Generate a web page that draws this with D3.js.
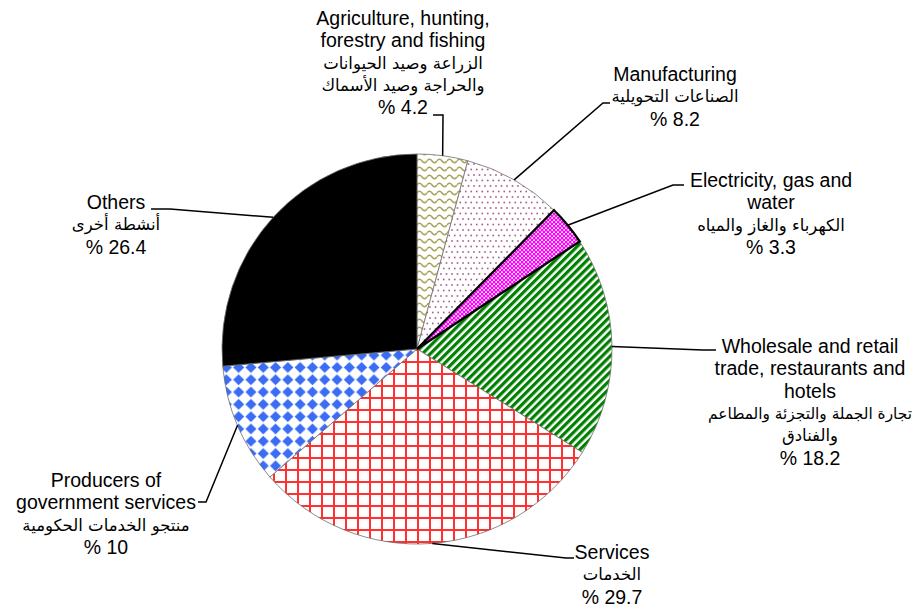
<!DOCTYPE html>
<html>
<head>
<meta charset="utf-8">
<script src="https://cdn.jsdelivr.net/npm/d3@7"></script>
<style>
    body { margin: 0; background: #fff; }
    .en { font-family: "Liberation Sans", Arial, sans-serif; font-size: 19.5px; fill: #000; }
    .ar { font-family: "DejaVu Sans", sans-serif; font-size: 16.5px; fill: #000; }
    .leader { fill: none; stroke: #000; stroke-width: 1.5; }
</style>
</head>
<body>
<div id="chart"></div>
<script>
// Chart data: sectors (clockwise from 12 o'clock), their labels and shares in %.
const sectors = ["agriculture", "manufacturing", "electricity", "wholesale", "services", "government", "others"];
const englishLines = [
    ["Agriculture, hunting,", "forestry and fishing"],
    ["Manufacturing"],
    ["Electricity, gas and", "water"],
    ["Wholesale and retail", "trade, restaurants and", "hotels"],
    ["Services"],
    ["Producers of", "government services"],
    ["Others"]
];
const arabicLines = [
    ["الزراعة وصيد الحيوانات", "والحراجة وصيد الأسماك"],
    ["الصناعات التحويلية"],
    ["الكهرباء والغاز والمياه"],
    ["تجارة الجملة والتجزئة والمطاعم", "والفنادق"],
    ["الخدمات"],
    ["منتجو الخدمات الحكومية"],
    ["أنشطة أخرى"]
];
const shares = [4.2, 8.2, 3.3, 18.2, 29.7, 10, 26.4];

// Layout of the pie and of the label blocks (first line centre + leader elbow and end).
const width = 918;
const height = 612;
const cx = 417, cy = 349, radius = 195;
const lineHeight = 22.3;
const arabicSize = 16.5;
const maxArabicWidth = 204;
const labelLayout = [
    { x: 403, y: 18, elbow: [443, 115], end: [433, 115] },
    { x: 675, y: 74, elbow: [603, 103], end: [610, 103] },
    { x: 771, y: 180, elbow: [673, 185], end: [684, 185] },
    { x: 810, y: 346, elbow: [703, 350], end: [716, 350] },
    { x: 612, y: 552, elbow: [566, 558], end: [574, 558] },
    { x: 106, y: 480, elbow: [206, 502], end: [198, 502] },
    { x: 116, y: 202, elbow: [170, 209], end: [151, 209] }
];

const svg = d3.select("#chart")
    .append("svg")
    .attr("width", width)
    .attr("height", height);

// Fill patterns for each slice.
const defs = svg.append("defs");

const wavy = defs.append("pattern").attr("id", "p-agriculture")
    .attr("patternUnits", "userSpaceOnUse").attr("width", 10).attr("height", 8);
wavy.append("rect").attr("width", 10).attr("height", 8).attr("fill", "#fff");
wavy.append("path").attr("d", "M0,4 Q2.5,0.5 5,4 T10,4")
    .attr("fill", "none").attr("stroke", "#a9a45a").attr("stroke-width", 1.6);

const dots = defs.append("pattern").attr("id", "p-manufacturing")
    .attr("patternUnits", "userSpaceOnUse").attr("width", 11).attr("height", 11);
dots.append("rect").attr("width", 11).attr("height", 11).attr("fill", "#fff");
[[2, 2], [7.5, 2], [4.75, 7.5], [10.25, 7.5], [-0.75, 7.5]].forEach(function(p) {
    dots.append("rect").attr("x", p[0] - 0.8).attr("y", p[1] - 0.8)
        .attr("width", 1.6).attr("height", 1.6).attr("fill", "#a8578a");
});

const confetti = defs.append("pattern").attr("id", "p-electricity")
    .attr("patternUnits", "userSpaceOnUse").attr("width", 4).attr("height", 4);
confetti.append("rect").attr("width", 4).attr("height", 4).attr("fill", "#ffd0ff");
confetti.append("rect").attr("width", 2.3).attr("height", 2.3).attr("fill", "#ff00ff");
confetti.append("rect").attr("x", 2).attr("y", 2).attr("width", 2.3).attr("height", 2.3).attr("fill", "#ff00ff");

const stripes = defs.append("pattern").attr("id", "p-wholesale")
    .attr("patternUnits", "userSpaceOnUse").attr("width", 5.6).attr("height", 10)
    .attr("patternTransform", "rotate(45)");
stripes.append("rect").attr("width", 5.6).attr("height", 10).attr("fill", "#fff");
stripes.append("rect").attr("width", 3.2).attr("height", 10).attr("fill", "#008000");

const grid = defs.append("pattern").attr("id", "p-services")
    .attr("patternUnits", "userSpaceOnUse").attr("width", 12).attr("height", 12);
grid.append("rect").attr("width", 12).attr("height", 12).attr("fill", "#fff");
grid.append("path").attr("d", "M1,0V12M0,1H12")
    .attr("stroke", "#ff3030").attr("stroke-width", 2);

const diamonds = defs.append("pattern").attr("id", "p-government")
    .attr("patternUnits", "userSpaceOnUse").attr("width", 12.3).attr("height", 12.3);
diamonds.append("rect").attr("width", 12.3).attr("height", 12.3).attr("fill", "#fff");
diamonds.append("path").attr("d", "M6.15,0.6L11.7,6.15L6.15,11.7L0.6,6.15Z").attr("fill", "#3a6cf4");

const fills = {
    agriculture: "url(#p-agriculture)",
    manufacturing: "url(#p-manufacturing)",
    electricity: "url(#p-electricity)",
    wholesale: "url(#p-wholesale)",
    services: "url(#p-services)",
    government: "url(#p-government)",
    others: "#000"
};

// Pie layout, clockwise from the top, in data order.
const pie = d3.pie().sort(null).value(function(d) { return d; });
const arcs = pie(shares);
const arc = d3.arc().innerRadius(0).outerRadius(radius);

const g = svg.append("g").attr("transform", `translate(${cx}, ${cy})`);

g.selectAll("path.slice")
    .data(arcs)
    .join("path")
    .attr("class", "slice")
    .attr("d", arc)
    .attr("fill", function(d, i) { return fills[sectors[i]]; })
    .attr("stroke", "#6e6e6e")
    .attr("stroke-width", 0.8);

// Electricity slice gets the heavy black border.
g.append("path")
    .attr("d", arc(arcs[2]))
    .attr("fill", "none")
    .attr("stroke", "#000")
    .attr("stroke-width", 2.4)
    .attr("stroke-linejoin", "miter");

// Leader lines from the middle of each slice's rim to its label.
arcs.forEach(function(d, i) {
    const mid = (d.startAngle + d.endAngle) / 2;
    const start = [cx + radius * Math.sin(mid), cy - radius * Math.cos(mid)];
    const lay = labelLayout[i];
    svg.append("path")
        .attr("class", "leader")
        .attr("d", d3.line()([start, lay.elbow, lay.end]));
});

// Label blocks: English lines, Arabic lines, then the share.
labelLayout.forEach(function(lay, i) {
    let row = 0;
    englishLines[i].forEach(function(t) {
        svg.append("text").attr("class", "en")
            .attr("x", lay.x).attr("y", lay.y + row * lineHeight + 7)
            .attr("text-anchor", "middle").text(t);
        row++;
    });
    arabicLines[i].forEach(function(t) {
        const txt = svg.append("text").attr("class", "ar")
            .attr("x", lay.x).attr("y", lay.y + row * lineHeight + 6)
            .attr("text-anchor", "middle").text(t);
        // shrink the one very long Arabic line so it stays inside the page
        const w = txt.node().getComputedTextLength();
        if (w > maxArabicWidth) {
            txt.style("font-size", (arabicSize * maxArabicWidth / w).toFixed(2) + "px");
        }
        row++;
    });
    svg.append("text").attr("class", "en")
        .attr("x", lay.x).attr("y", lay.y + row * lineHeight + 7)
        .attr("text-anchor", "middle").text("% " + shares[i]);
});
</script>
</body>
</html>
